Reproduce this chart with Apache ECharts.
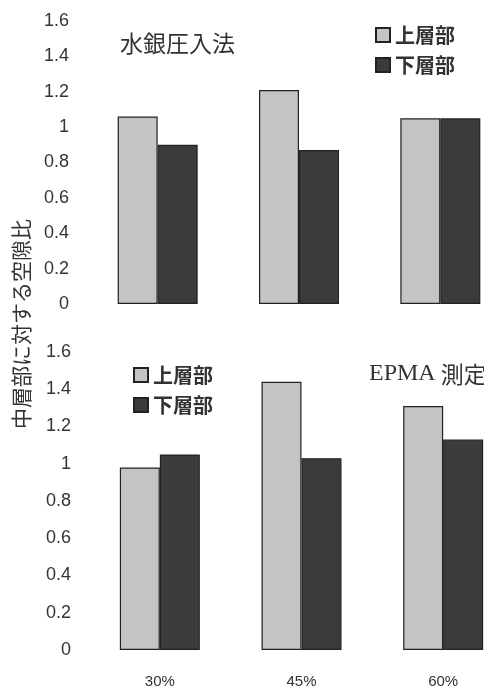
<!DOCTYPE html>
<html><head><meta charset="utf-8">
<script src="https://cdn.jsdelivr.net/npm/echarts@6/dist/echarts.min.js"></script>
<style>html,body{margin:0;padding:0;background:#fff;overflow:hidden;width:484px;height:690px}#c{width:540px;height:690px}</style>
</head><body><div id="c"></div>
<script>
const categories = ['30%', '45%', '60%'];
const seriesNames = ['上層部', '下層部'];
const hgUpper = [1.06, 1.21, 1.05];
const hgLower = [0.90, 0.87, 1.05];
const epmaUpper = [0.98, 1.44, 1.31];
const epmaLower = [1.05, 1.03, 1.13];
const yMin = 0, yMax = 1.6, yStep = 0.2;

const chart = echarts.init(document.getElementById('c'), null, {renderer: 'canvas'});
const txt = '#333';
const lightStyle = {color: '#c4c4c4', borderColor: '#222', borderWidth: 1.2};
const darkStyle = {color: '#3b3b3b', borderColor: '#222', borderWidth: 1.2};
const numFont = {fontFamily: 'Liberation Sans', fontSize: 18, color: txt};
function yAx(gi) {
  return {gridIndex: gi, type: 'value', min: yMin, max: yMax, interval: yStep,
    axisLine: {show: false}, axisTick: {show: false}, splitLine: {show: false},
    axisLabel: Object.assign({margin: 18}, numFont)};
}
function xAx(gi, showLabel) {
  return {gridIndex: gi, type: 'category', data: categories,
    axisLine: {show: false}, axisTick: {show: false},
    axisLabel: {show: showLabel, fontFamily: 'Liberation Sans', fontSize: 15, color: txt, margin: 24}};
}
function legend(left, top) {
  return {orient: 'vertical', left: left, top: top, itemWidth: 14, itemHeight: 14, itemGap: 10,
    icon: 'rect', data: seriesNames,
    textStyle: {fontFamily: 'Noto Sans CJK JP', fontSize: 20, fontWeight: 'bold', color: txt, lineHeight: 20}};
}
function bar(name, data, gi, style) {
  return {name: name, type: 'bar', xAxisIndex: gi, yAxisIndex: gi, data: data,
    barWidth: 40, barGap: '0%', itemStyle: style};
}
chart.setOption({
  animation: false,
  grid: [
    {left: 87, top: 21, width: 424, height: 283},
    {left: 89, top: 352, width: 425, height: 298}
  ],
  xAxis: [xAx(0, false), xAx(1, true)],
  yAxis: [yAx(0), yAx(1)],
  legend: [legend(370, 20), legend(128, 360)],
  title: [
    {text: '水銀圧入法', left: 115, top: 27,
     textStyle: {fontFamily: 'Noto Sans CJK JP', fontSize: 23, fontWeight: 'normal', color: txt}},
    {text: '{a|EPMA} {b|測定}', left: 364, top: 357,
     textStyle: {fontWeight: 'normal', rich: {
       a: {fontFamily: 'Liberation Serif', fontSize: 24, fontWeight: 'normal', color: txt},
       b: {fontFamily: 'Noto Sans CJK JP', fontSize: 23, fontWeight: 'normal', color: txt}}}}
  ],
  graphic: [{
    type: 'text', x: 21, y: 324, rotation: Math.PI / 2,
    style: {text: '中層部に対する空隙比', fontFamily: 'Noto Sans CJK JP', fontSize: 21,
      fill: txt, align: 'center', verticalAlign: 'middle'}
  }],
  series: [
    bar(seriesNames[0], hgUpper, 0, lightStyle),
    bar(seriesNames[1], hgLower, 0, darkStyle),
    bar(seriesNames[0], epmaUpper, 1, lightStyle),
    bar(seriesNames[1], epmaLower, 1, darkStyle)
  ]
});
</script></body></html>
